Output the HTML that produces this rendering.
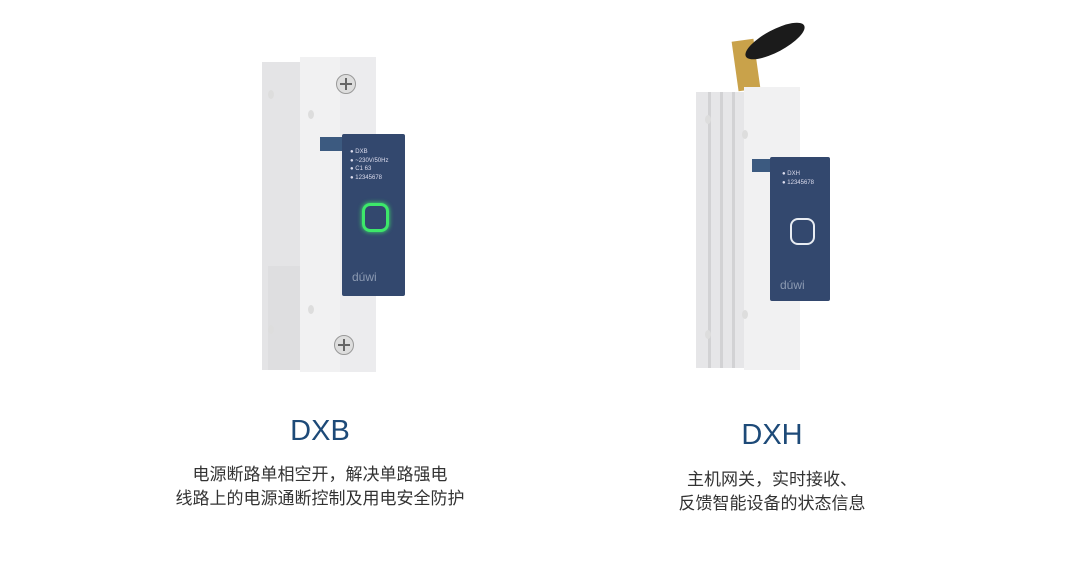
<!DOCTYPE html>
<html><head><meta charset="utf-8"><style>
body{margin:0;width:1080px;height:566px;background:#fff;position:relative;overflow:hidden;font-family:"Liberation Sans","Noto Sans CJK SC",sans-serif}
.a{position:absolute}
.t{position:absolute;text-align:center;color:#333;font-size:17px;line-height:24px;width:500px}
.h{position:absolute;text-align:center;color:#1d4a78;font-size:29px;width:300px}
.screw{position:absolute;width:20px;height:20px;border-radius:50%;background:#ddd;border:1px solid #999;box-sizing:border-box}
.screw:before{content:"";position:absolute;left:3px;top:8px;width:12px;height:2px;background:#666}
.screw:after{content:"";position:absolute;left:8px;top:3px;width:2px;height:12px;background:#666}
.hole{position:absolute;width:6px;height:9px;border-radius:50%;background:#ddd}
.lbl{position:absolute;color:#dde;font-size:6px;line-height:8.5px;font-family:"Liberation Sans",sans-serif}
</style></head><body>
<!-- Device 1 -->
<div class="a" style="left:262px;top:62px;width:40px;height:308px;background:#e4e4e6"></div>
<div class="a" style="left:268px;top:266px;width:34px;height:104px;background:#dedee0"></div>
<div class="a" style="left:300px;top:57px;width:76px;height:315px;background:#f1f1f2"></div>
<div class="a" style="left:340px;top:57px;width:36px;height:315px;background:#ececee"></div>
<div class="hole" style="left:268px;top:90px"></div><div class="hole" style="left:308px;top:110px"></div>
<div class="hole" style="left:268px;top:325px"></div><div class="hole" style="left:308px;top:305px"></div>
<div class="screw" style="left:336px;top:74px"></div>
<div class="screw" style="left:334px;top:335px"></div>
<div class="a" style="left:320px;top:137px;width:22px;height:14px;background:#3c5a80"></div>
<div class="a" style="left:342px;top:134px;width:63px;height:162px;background:#33486e;border-radius:2px"></div>
<div class="lbl" style="left:350px;top:148px">● DXB<br>● ~230V/50Hz<br>● C1 63<br>● 12345678</div>
<div class="a" style="left:362px;top:203px;width:21px;height:23px;border:3px solid #3de86a;border-radius:8px;box-shadow:0 0 5px #3de86a"></div>
<div class="a" style="left:352px;top:270px;color:#8c9ab2;font-size:12px">dúwi</div>
<!-- Device 2 -->
<div class="a" style="left:735px;top:40px;width:22px;height:50px;background:#c9a24a;transform:rotate(-8deg)"></div>
<div class="a" style="left:742px;top:30px;width:66px;height:22px;background:#1b1b1b;border-radius:50%;transform:rotate(-28deg)"></div>
<div class="a" style="left:696px;top:92px;width:50px;height:276px;background:#e6e6e8"></div>
<div class="a" style="left:708px;top:92px;width:3px;height:276px;background:#d2d2d4"></div>
<div class="a" style="left:720px;top:92px;width:3px;height:276px;background:#d2d2d4"></div>
<div class="a" style="left:732px;top:92px;width:3px;height:276px;background:#d2d2d4"></div>
<div class="a" style="left:744px;top:87px;width:56px;height:283px;background:#f1f1f2"></div>
<div class="hole" style="left:705px;top:115px"></div><div class="hole" style="left:742px;top:130px"></div>
<div class="hole" style="left:742px;top:310px"></div><div class="hole" style="left:705px;top:330px"></div>
<div class="a" style="left:752px;top:159px;width:20px;height:13px;background:#3c5a80"></div>
<div class="a" style="left:770px;top:157px;width:60px;height:144px;background:#33486e;border-radius:2px"></div>
<div class="lbl" style="left:782px;top:170px">● DXH<br>● 12345678</div>
<div class="a" style="left:790px;top:218px;width:21px;height:23px;border:2px solid #e8ecf2;border-radius:8px"></div>
<div class="a" style="left:780px;top:278px;color:#8c9ab2;font-size:12px">dúwi</div>
<!-- Text -->
<div class="h" style="left:170px;top:415px">DXB</div>
<div class="t" style="left:70px;top:463px">电源断路单相空开，解决单路强电<br>线路上的电源通断控制及用电安全防护</div>
<div class="h" style="left:622px;top:419px">DXH</div>
<div class="t" style="left:522px;top:468px">主机网关，实时接收、<br>反馈智能设备的状态信息</div>
</body></html>
